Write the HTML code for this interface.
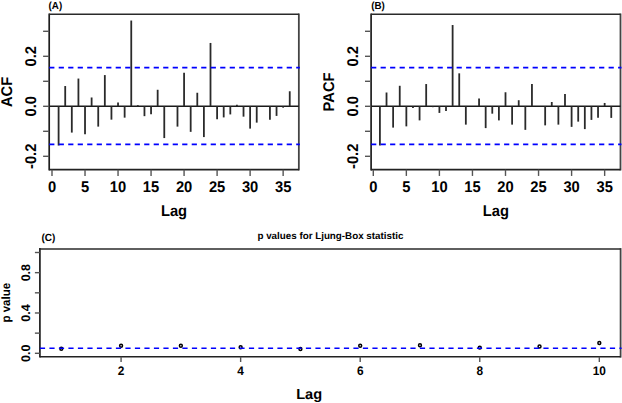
<!DOCTYPE html>
<html><head><meta charset="utf-8"><style>
html,body{margin:0;padding:0;background:#fff;width:622px;height:403px;overflow:hidden;}
svg{display:block;}
text{font-family:"Liberation Sans", sans-serif;fill:#000;text-rendering:geometricPrecision;}
</style></head><body>
<svg width="622" height="403" viewBox="0 0 622 403">
<rect width="622" height="403" fill="#fff"/>
<line x1="49.20" y1="13.50" x2="49.20" y2="170.45" stroke="#1e1e1e" stroke-width="1.7" />
<line x1="298.85" y1="13.50" x2="298.85" y2="170.45" stroke="#444" stroke-width="1.8" />
<line x1="49.20" y1="14.30" x2="298.85" y2="14.30" stroke="#2a2a2a" stroke-width="1.5" />
<line x1="49.20" y1="169.65" x2="298.85" y2="169.65" stroke="#222" stroke-width="1.6" />
<line x1="49.20" y1="106.25" x2="298.85" y2="106.25" stroke="#1a1a1a" stroke-width="1.6" />
<line x1="58.60" y1="106.25" x2="58.60" y2="145.54" stroke="#2a2a2a" stroke-width="1.8" />
<line x1="65.21" y1="106.25" x2="65.21" y2="86.03" stroke="#2a2a2a" stroke-width="1.8" />
<line x1="71.81" y1="106.25" x2="71.81" y2="132.59" stroke="#2a2a2a" stroke-width="1.8" />
<line x1="78.42" y1="106.25" x2="78.42" y2="78.56" stroke="#2a2a2a" stroke-width="1.8" />
<line x1="85.02" y1="106.25" x2="85.02" y2="134.34" stroke="#2a2a2a" stroke-width="1.8" />
<line x1="91.62" y1="106.25" x2="91.62" y2="97.48" stroke="#2a2a2a" stroke-width="1.8" />
<line x1="98.23" y1="106.25" x2="98.23" y2="126.62" stroke="#2a2a2a" stroke-width="1.8" />
<line x1="104.83" y1="106.25" x2="104.83" y2="75.08" stroke="#2a2a2a" stroke-width="1.8" />
<line x1="111.44" y1="106.25" x2="111.44" y2="119.65" stroke="#2a2a2a" stroke-width="1.8" />
<line x1="118.04" y1="106.25" x2="118.04" y2="102.47" stroke="#2a2a2a" stroke-width="1.8" />
<line x1="124.64" y1="106.25" x2="124.64" y2="117.65" stroke="#2a2a2a" stroke-width="1.8" />
<line x1="131.25" y1="106.25" x2="131.25" y2="20.54" stroke="#2a2a2a" stroke-width="1.8" />
<line x1="137.85" y1="106.25" x2="137.85" y2="105.20" stroke="#2a2a2a" stroke-width="1.8" />
<line x1="144.46" y1="106.25" x2="144.46" y2="116.16" stroke="#2a2a2a" stroke-width="1.8" />
<line x1="151.06" y1="106.25" x2="151.06" y2="114.17" stroke="#2a2a2a" stroke-width="1.8" />
<line x1="157.66" y1="106.25" x2="157.66" y2="89.77" stroke="#2a2a2a" stroke-width="1.8" />
<line x1="164.27" y1="106.25" x2="164.27" y2="138.07" stroke="#2a2a2a" stroke-width="1.8" />
<line x1="170.87" y1="106.25" x2="170.87" y2="106.20" stroke="#2a2a2a" stroke-width="1.8" />
<line x1="177.48" y1="106.25" x2="177.48" y2="126.62" stroke="#2a2a2a" stroke-width="1.8" />
<line x1="184.08" y1="106.25" x2="184.08" y2="72.83" stroke="#2a2a2a" stroke-width="1.8" />
<line x1="190.68" y1="106.25" x2="190.68" y2="131.85" stroke="#2a2a2a" stroke-width="1.8" />
<line x1="197.29" y1="106.25" x2="197.29" y2="92.75" stroke="#2a2a2a" stroke-width="1.8" />
<line x1="203.89" y1="106.25" x2="203.89" y2="137.08" stroke="#2a2a2a" stroke-width="1.8" />
<line x1="210.50" y1="106.25" x2="210.50" y2="42.95" stroke="#2a2a2a" stroke-width="1.8" />
<line x1="217.10" y1="106.25" x2="217.10" y2="119.15" stroke="#2a2a2a" stroke-width="1.8" />
<line x1="223.70" y1="106.25" x2="223.70" y2="117.41" stroke="#2a2a2a" stroke-width="1.8" />
<line x1="230.31" y1="106.25" x2="230.31" y2="114.42" stroke="#2a2a2a" stroke-width="1.8" />
<line x1="236.91" y1="106.25" x2="236.91" y2="104.71" stroke="#2a2a2a" stroke-width="1.8" />
<line x1="243.52" y1="106.25" x2="243.52" y2="116.66" stroke="#2a2a2a" stroke-width="1.8" />
<line x1="250.12" y1="106.25" x2="250.12" y2="128.61" stroke="#2a2a2a" stroke-width="1.8" />
<line x1="256.72" y1="106.25" x2="256.72" y2="122.63" stroke="#2a2a2a" stroke-width="1.8" />
<line x1="263.33" y1="106.25" x2="263.33" y2="106.20" stroke="#2a2a2a" stroke-width="1.8" />
<line x1="269.93" y1="106.25" x2="269.93" y2="119.65" stroke="#2a2a2a" stroke-width="1.8" />
<line x1="276.54" y1="106.25" x2="276.54" y2="115.91" stroke="#2a2a2a" stroke-width="1.8" />
<line x1="283.14" y1="106.25" x2="283.14" y2="107.69" stroke="#2a2a2a" stroke-width="1.8" />
<line x1="289.74" y1="106.25" x2="289.74" y2="91.26" stroke="#2a2a2a" stroke-width="1.8" />
<line x1="49.20" y1="67.65" x2="299.85" y2="67.65" stroke="#0000ff" stroke-width="1.6" stroke-dasharray="5.2 4.3"/>
<line x1="49.20" y1="144.35" x2="299.85" y2="144.35" stroke="#0000ff" stroke-width="1.6" stroke-dasharray="5.2 4.3"/>
<line x1="43.10" y1="156.30" x2="49.20" y2="156.30" stroke="#555" stroke-width="1.4" />
<line x1="43.10" y1="131.30" x2="49.20" y2="131.30" stroke="#555" stroke-width="1.4" />
<line x1="43.10" y1="106.30" x2="49.20" y2="106.30" stroke="#555" stroke-width="1.4" />
<line x1="43.10" y1="81.30" x2="49.20" y2="81.30" stroke="#555" stroke-width="1.4" />
<line x1="43.10" y1="56.30" x2="49.20" y2="56.30" stroke="#555" stroke-width="1.4" />
<line x1="43.10" y1="31.30" x2="49.20" y2="31.30" stroke="#555" stroke-width="1.4" />
<text transform="translate(36.20,156.30) rotate(-90) scale(0.95,1)" text-anchor="middle" font-size="15.5" font-weight="bold">-0.2</text>
<text transform="translate(36.20,106.30) rotate(-90) scale(0.95,1)" text-anchor="middle" font-size="15.5" font-weight="bold">0.0</text>
<text transform="translate(36.20,56.30) rotate(-90) scale(0.95,1)" text-anchor="middle" font-size="15.5" font-weight="bold">0.2</text>
<line x1="52.00" y1="169.65" x2="52.00" y2="175.95" stroke="#555" stroke-width="1.4" />
<text transform="translate(52.00,192.00) scale(0.95,1)" text-anchor="middle" font-size="15.5" font-weight="bold">0</text>
<line x1="85.02" y1="169.65" x2="85.02" y2="175.95" stroke="#555" stroke-width="1.4" />
<text transform="translate(85.02,192.00) scale(0.95,1)" text-anchor="middle" font-size="15.5" font-weight="bold">5</text>
<line x1="118.04" y1="169.65" x2="118.04" y2="175.95" stroke="#555" stroke-width="1.4" />
<text transform="translate(118.04,192.00) scale(0.95,1)" text-anchor="middle" font-size="15.5" font-weight="bold">10</text>
<line x1="151.06" y1="169.65" x2="151.06" y2="175.95" stroke="#555" stroke-width="1.4" />
<text transform="translate(151.06,192.00) scale(0.95,1)" text-anchor="middle" font-size="15.5" font-weight="bold">15</text>
<line x1="184.08" y1="169.65" x2="184.08" y2="175.95" stroke="#555" stroke-width="1.4" />
<text transform="translate(184.08,192.00) scale(0.95,1)" text-anchor="middle" font-size="15.5" font-weight="bold">20</text>
<line x1="217.10" y1="169.65" x2="217.10" y2="175.95" stroke="#555" stroke-width="1.4" />
<text transform="translate(217.10,192.00) scale(0.95,1)" text-anchor="middle" font-size="15.5" font-weight="bold">25</text>
<line x1="250.12" y1="169.65" x2="250.12" y2="175.95" stroke="#555" stroke-width="1.4" />
<text transform="translate(250.12,192.00) scale(0.95,1)" text-anchor="middle" font-size="15.5" font-weight="bold">30</text>
<line x1="283.14" y1="169.65" x2="283.14" y2="175.95" stroke="#555" stroke-width="1.4" />
<text transform="translate(283.14,192.00) scale(0.95,1)" text-anchor="middle" font-size="15.5" font-weight="bold">35</text>
<text transform="translate(174.03,215.50) scale(0.95,1)" text-anchor="middle" font-size="15.5" font-weight="bold">Lag</text>
<text transform="translate(12.40,91.98) rotate(-90) scale(0.95,1)" text-anchor="middle" font-size="15.5" font-weight="bold">ACF</text>
<text transform="translate(48.60,8.50) scale(0.95,1)" text-anchor="start" font-size="10.3" font-weight="bold">(A)</text>
<line x1="371.10" y1="13.50" x2="371.10" y2="170.45" stroke="#1e1e1e" stroke-width="1.7" />
<line x1="620.50" y1="13.50" x2="620.50" y2="170.45" stroke="#444" stroke-width="1.8" />
<line x1="371.10" y1="14.30" x2="620.50" y2="14.30" stroke="#2a2a2a" stroke-width="1.5" />
<line x1="371.10" y1="169.65" x2="620.50" y2="169.65" stroke="#222" stroke-width="1.6" />
<line x1="371.10" y1="106.25" x2="620.50" y2="106.25" stroke="#1a1a1a" stroke-width="1.6" />
<line x1="379.91" y1="106.25" x2="379.91" y2="145.54" stroke="#2a2a2a" stroke-width="1.8" />
<line x1="386.52" y1="106.25" x2="386.52" y2="92.50" stroke="#2a2a2a" stroke-width="1.8" />
<line x1="393.13" y1="106.25" x2="393.13" y2="127.61" stroke="#2a2a2a" stroke-width="1.8" />
<line x1="399.74" y1="106.25" x2="399.74" y2="85.78" stroke="#2a2a2a" stroke-width="1.8" />
<line x1="406.35" y1="106.25" x2="406.35" y2="126.37" stroke="#2a2a2a" stroke-width="1.8" />
<line x1="412.96" y1="106.25" x2="412.96" y2="107.94" stroke="#2a2a2a" stroke-width="1.8" />
<line x1="419.57" y1="106.25" x2="419.57" y2="120.39" stroke="#2a2a2a" stroke-width="1.8" />
<line x1="426.18" y1="106.25" x2="426.18" y2="84.04" stroke="#2a2a2a" stroke-width="1.8" />
<line x1="432.79" y1="106.25" x2="432.79" y2="107.20" stroke="#2a2a2a" stroke-width="1.8" />
<line x1="439.40" y1="106.25" x2="439.40" y2="112.92" stroke="#2a2a2a" stroke-width="1.8" />
<line x1="446.01" y1="106.25" x2="446.01" y2="110.93" stroke="#2a2a2a" stroke-width="1.8" />
<line x1="452.62" y1="106.25" x2="452.62" y2="25.03" stroke="#2a2a2a" stroke-width="1.8" />
<line x1="459.23" y1="106.25" x2="459.23" y2="73.33" stroke="#2a2a2a" stroke-width="1.8" />
<line x1="465.84" y1="106.25" x2="465.84" y2="124.63" stroke="#2a2a2a" stroke-width="1.8" />
<line x1="472.45" y1="106.25" x2="472.45" y2="106.20" stroke="#2a2a2a" stroke-width="1.8" />
<line x1="479.06" y1="106.25" x2="479.06" y2="98.48" stroke="#2a2a2a" stroke-width="1.8" />
<line x1="485.67" y1="106.25" x2="485.67" y2="128.11" stroke="#2a2a2a" stroke-width="1.8" />
<line x1="492.28" y1="106.25" x2="492.28" y2="113.67" stroke="#2a2a2a" stroke-width="1.8" />
<line x1="498.89" y1="106.25" x2="498.89" y2="120.39" stroke="#2a2a2a" stroke-width="1.8" />
<line x1="505.50" y1="106.25" x2="505.50" y2="92.26" stroke="#2a2a2a" stroke-width="1.8" />
<line x1="512.11" y1="106.25" x2="512.11" y2="124.63" stroke="#2a2a2a" stroke-width="1.8" />
<line x1="518.72" y1="106.25" x2="518.72" y2="100.22" stroke="#2a2a2a" stroke-width="1.8" />
<line x1="525.33" y1="106.25" x2="525.33" y2="129.86" stroke="#2a2a2a" stroke-width="1.8" />
<line x1="531.94" y1="106.25" x2="531.94" y2="84.04" stroke="#2a2a2a" stroke-width="1.8" />
<line x1="538.55" y1="106.25" x2="538.55" y2="106.20" stroke="#2a2a2a" stroke-width="1.8" />
<line x1="545.16" y1="106.25" x2="545.16" y2="125.37" stroke="#2a2a2a" stroke-width="1.8" />
<line x1="551.77" y1="106.25" x2="551.77" y2="101.97" stroke="#2a2a2a" stroke-width="1.8" />
<line x1="558.38" y1="106.25" x2="558.38" y2="124.63" stroke="#2a2a2a" stroke-width="1.8" />
<line x1="564.99" y1="106.25" x2="564.99" y2="94.00" stroke="#2a2a2a" stroke-width="1.8" />
<line x1="571.60" y1="106.25" x2="571.60" y2="126.87" stroke="#2a2a2a" stroke-width="1.8" />
<line x1="578.21" y1="106.25" x2="578.21" y2="121.64" stroke="#2a2a2a" stroke-width="1.8" />
<line x1="584.82" y1="106.25" x2="584.82" y2="129.11" stroke="#2a2a2a" stroke-width="1.8" />
<line x1="591.43" y1="106.25" x2="591.43" y2="119.90" stroke="#2a2a2a" stroke-width="1.8" />
<line x1="598.04" y1="106.25" x2="598.04" y2="117.65" stroke="#2a2a2a" stroke-width="1.8" />
<line x1="604.65" y1="106.25" x2="604.65" y2="102.96" stroke="#2a2a2a" stroke-width="1.8" />
<line x1="611.26" y1="106.25" x2="611.26" y2="117.90" stroke="#2a2a2a" stroke-width="1.8" />
<line x1="371.10" y1="67.65" x2="621.50" y2="67.65" stroke="#0000ff" stroke-width="1.6" stroke-dasharray="5.2 4.3"/>
<line x1="371.10" y1="144.35" x2="621.50" y2="144.35" stroke="#0000ff" stroke-width="1.6" stroke-dasharray="5.2 4.3"/>
<line x1="365.00" y1="156.30" x2="371.10" y2="156.30" stroke="#555" stroke-width="1.4" />
<line x1="365.00" y1="131.30" x2="371.10" y2="131.30" stroke="#555" stroke-width="1.4" />
<line x1="365.00" y1="106.30" x2="371.10" y2="106.30" stroke="#555" stroke-width="1.4" />
<line x1="365.00" y1="81.30" x2="371.10" y2="81.30" stroke="#555" stroke-width="1.4" />
<line x1="365.00" y1="56.30" x2="371.10" y2="56.30" stroke="#555" stroke-width="1.4" />
<line x1="365.00" y1="31.30" x2="371.10" y2="31.30" stroke="#555" stroke-width="1.4" />
<text transform="translate(358.00,156.30) rotate(-90) scale(0.95,1)" text-anchor="middle" font-size="15.5" font-weight="bold">-0.2</text>
<text transform="translate(358.00,106.30) rotate(-90) scale(0.95,1)" text-anchor="middle" font-size="15.5" font-weight="bold">0.0</text>
<text transform="translate(358.00,56.30) rotate(-90) scale(0.95,1)" text-anchor="middle" font-size="15.5" font-weight="bold">0.2</text>
<line x1="373.30" y1="169.65" x2="373.30" y2="175.95" stroke="#555" stroke-width="1.4" />
<text transform="translate(373.30,192.00) scale(0.95,1)" text-anchor="middle" font-size="15.5" font-weight="bold">0</text>
<line x1="406.35" y1="169.65" x2="406.35" y2="175.95" stroke="#555" stroke-width="1.4" />
<text transform="translate(406.35,192.00) scale(0.95,1)" text-anchor="middle" font-size="15.5" font-weight="bold">5</text>
<line x1="439.40" y1="169.65" x2="439.40" y2="175.95" stroke="#555" stroke-width="1.4" />
<text transform="translate(439.40,192.00) scale(0.95,1)" text-anchor="middle" font-size="15.5" font-weight="bold">10</text>
<line x1="472.45" y1="169.65" x2="472.45" y2="175.95" stroke="#555" stroke-width="1.4" />
<text transform="translate(472.45,192.00) scale(0.95,1)" text-anchor="middle" font-size="15.5" font-weight="bold">15</text>
<line x1="505.50" y1="169.65" x2="505.50" y2="175.95" stroke="#555" stroke-width="1.4" />
<text transform="translate(505.50,192.00) scale(0.95,1)" text-anchor="middle" font-size="15.5" font-weight="bold">20</text>
<line x1="538.55" y1="169.65" x2="538.55" y2="175.95" stroke="#555" stroke-width="1.4" />
<text transform="translate(538.55,192.00) scale(0.95,1)" text-anchor="middle" font-size="15.5" font-weight="bold">25</text>
<line x1="571.60" y1="169.65" x2="571.60" y2="175.95" stroke="#555" stroke-width="1.4" />
<text transform="translate(571.60,192.00) scale(0.95,1)" text-anchor="middle" font-size="15.5" font-weight="bold">30</text>
<line x1="604.65" y1="169.65" x2="604.65" y2="175.95" stroke="#555" stroke-width="1.4" />
<text transform="translate(604.65,192.00) scale(0.95,1)" text-anchor="middle" font-size="15.5" font-weight="bold">35</text>
<text transform="translate(495.80,215.50) scale(0.95,1)" text-anchor="middle" font-size="15.5" font-weight="bold">Lag</text>
<text transform="translate(334.20,91.98) rotate(-90) scale(0.95,1)" text-anchor="middle" font-size="15.5" font-weight="bold">PACF</text>
<text transform="translate(371.20,8.50) scale(0.95,1)" text-anchor="start" font-size="10.3" font-weight="bold">(B)</text>
<line x1="39.90" y1="248.10" x2="39.90" y2="357.60" stroke="#1e1e1e" stroke-width="1.7" />
<line x1="620.60" y1="248.10" x2="620.60" y2="357.60" stroke="#444" stroke-width="1.8" />
<line x1="39.90" y1="248.90" x2="620.60" y2="248.90" stroke="#2a2a2a" stroke-width="1.5" />
<line x1="39.90" y1="356.80" x2="620.60" y2="356.80" stroke="#222" stroke-width="1.6" />
<circle cx="61.30" cy="348.8" r="1.45" fill="none" stroke="#000" stroke-width="1.5"/>
<circle cx="121.08" cy="345.8" r="1.45" fill="none" stroke="#000" stroke-width="1.5"/>
<circle cx="180.86" cy="345.7" r="1.45" fill="none" stroke="#000" stroke-width="1.5"/>
<circle cx="240.64" cy="347.2" r="1.45" fill="none" stroke="#000" stroke-width="1.5"/>
<circle cx="300.42" cy="349.0" r="1.45" fill="none" stroke="#000" stroke-width="1.5"/>
<circle cx="360.20" cy="345.7" r="1.45" fill="none" stroke="#000" stroke-width="1.5"/>
<circle cx="419.98" cy="345.2" r="1.45" fill="none" stroke="#000" stroke-width="1.5"/>
<circle cx="479.76" cy="347.6" r="1.45" fill="none" stroke="#000" stroke-width="1.5"/>
<circle cx="539.54" cy="346.5" r="1.45" fill="none" stroke="#000" stroke-width="1.5"/>
<circle cx="599.32" cy="343.0" r="1.45" fill="none" stroke="#000" stroke-width="1.5"/>
<line x1="39.90" y1="348.30" x2="621.60" y2="348.30" stroke="#0000ff" stroke-width="1.6" stroke-dasharray="5.2 4.3"/>
<line x1="34.90" y1="353.30" x2="39.90" y2="353.30" stroke="#555" stroke-width="1.4" />
<line x1="34.90" y1="333.14" x2="39.90" y2="333.14" stroke="#555" stroke-width="1.4" />
<line x1="34.90" y1="312.98" x2="39.90" y2="312.98" stroke="#555" stroke-width="1.4" />
<line x1="34.90" y1="292.82" x2="39.90" y2="292.82" stroke="#555" stroke-width="1.4" />
<line x1="34.90" y1="272.66" x2="39.90" y2="272.66" stroke="#555" stroke-width="1.4" />
<line x1="34.90" y1="252.50" x2="39.90" y2="252.50" stroke="#555" stroke-width="1.4" />
<text transform="translate(29.80,353.30) rotate(-90) scale(1.0,1)" text-anchor="middle" font-size="12.5" font-weight="bold">0.0</text>
<text transform="translate(29.80,312.98) rotate(-90) scale(1.0,1)" text-anchor="middle" font-size="12.5" font-weight="bold">0.4</text>
<text transform="translate(29.80,272.66) rotate(-90) scale(1.0,1)" text-anchor="middle" font-size="12.5" font-weight="bold">0.8</text>
<line x1="121.08" y1="356.80" x2="121.08" y2="362.00" stroke="#555" stroke-width="1.4" />
<text transform="translate(121.08,374.80) scale(0.95,1)" text-anchor="middle" font-size="12.5" font-weight="bold">2</text>
<line x1="240.64" y1="356.80" x2="240.64" y2="362.00" stroke="#555" stroke-width="1.4" />
<text transform="translate(240.64,374.80) scale(0.95,1)" text-anchor="middle" font-size="12.5" font-weight="bold">4</text>
<line x1="360.20" y1="356.80" x2="360.20" y2="362.00" stroke="#555" stroke-width="1.4" />
<text transform="translate(360.20,374.80) scale(0.95,1)" text-anchor="middle" font-size="12.5" font-weight="bold">6</text>
<line x1="479.76" y1="356.80" x2="479.76" y2="362.00" stroke="#555" stroke-width="1.4" />
<text transform="translate(479.76,374.80) scale(0.95,1)" text-anchor="middle" font-size="12.5" font-weight="bold">8</text>
<line x1="599.32" y1="356.80" x2="599.32" y2="362.00" stroke="#555" stroke-width="1.4" />
<text transform="translate(599.32,374.80) scale(0.95,1)" text-anchor="middle" font-size="12.5" font-weight="bold">10</text>
<text transform="translate(309.10,399.00) scale(1.0,1)" text-anchor="middle" font-size="14.6" font-weight="bold">Lag</text>
<text transform="translate(10.30,302.70) rotate(-90) scale(0.96,1)" text-anchor="middle" font-size="12" font-weight="bold">p value</text>
<text transform="translate(330.40,238.90) scale(1.0,1)" text-anchor="middle" font-size="9.8" font-weight="bold">p values for Ljung-Box statistic</text>
<text transform="translate(41.40,241.20) scale(0.97,1)" text-anchor="start" font-size="10.3" font-weight="bold">(C)</text>
</svg>
</body></html>
